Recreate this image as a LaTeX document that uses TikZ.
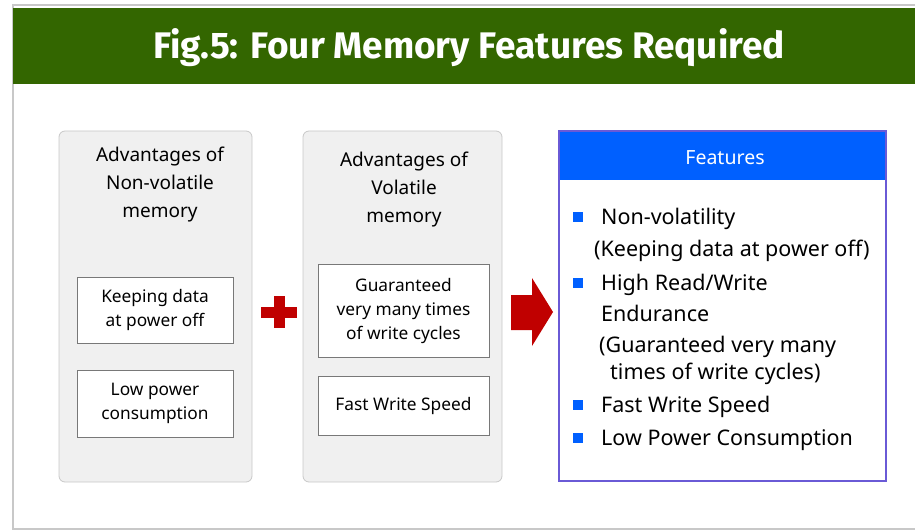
\documentclass[tikz,border=0pt]{standalone}
\usepackage{fontspec}
\setmainfont{Noto Sans}
\newfontfamily\titlefont{Fira Sans}
\usetikzlibrary{positioning}

\definecolor{bannergreen}{RGB}{51,102,0}
\definecolor{panelgray}{RGB}{240,240,240}
\definecolor{panelline}{RGB}{200,200,200}
\definecolor{boxline}{RGB}{120,120,120}
\definecolor{memred}{RGB}{192,0,0}
\definecolor{featblue}{RGB}{0,96,255}
\definecolor{featline}{RGB}{106,90,214}

\tikzset{
  panel/.style={draw=panelline, fill=panelgray, rounded corners=6pt, line width=0.8pt},
  advbox/.style={draw=boxline, fill=white, line width=0.8pt, align=center,
    font=\fontsize{17.3}{24}\selectfont},
  paneltitle/.style={align=center, font=\fontsize{19}{28}\selectfont},
  featitem/.style={anchor=west, inner sep=0pt, font=\fontsize{21.5}{24}\selectfont},
  bullet/.style={fill=featblue, minimum size=9.5pt, inner sep=0pt}
}

\begin{document}
\begin{tikzpicture}[x=1pt, y=-1pt]
    \useasboundingbox (0,0) rectangle (915,532);
    % frame and banner
    \draw[panelline, line width=1.5pt] (915,5) -- (13,5) -- (13,529) -- (915,529);
    \fill[bannergreen] (13,8) rectangle (915,84);
    \node[text=white, font=\titlefont\bfseries\fontsize{37}{40}\selectfont] (title) at (469,48)
        {Fig.5: Four Memory Features Required};

    % non-volatile memory
    \node[panel, minimum width=193pt, minimum height=351pt] (nvpanel) at (155.5,306.5) {};
    \node[paneltitle] (nvtitle) at (160,185) {Advantages of\\Non-volatile\\memory};
    \node[advbox, minimum width=156pt, minimum height=66pt] (keep) at (155,310) {Keeping data\\at power off};
    \node[advbox, minimum width=156pt, minimum height=67pt] (lowpow) at (155,403.5) {Low power\\consumption};

    % plus sign
    \fill[memred] (261,306.5) rectangle (297,317.5);
    \fill[memred] (273.5,296) rectangle (284.5,328);

    % volatile memory
    \node[panel, minimum width=199pt, minimum height=351pt] (vpanel) at (402.5,306.5) {};
    \node[paneltitle] (vtitle) at (404,190) {Advantages of\\Volatile\\memory};
    \node[advbox, minimum width=171pt, minimum height=93pt] (cycles) at (403.5,310.5) {Guaranteed\\very many times\\of write cycles};
    \node[advbox, minimum width=171pt, minimum height=59pt] (speed) at (403.5,405.5) {Fast Write Speed};

    % block arrow
    \fill[memred] (511,295) -- (532,295) -- (532,278) -- (553,312) -- (532,346) -- (532,330) -- (511,330) -- cycle;

    % features
    \fill[featblue] (559,131) rectangle (886,180);
    \draw[featline, line width=1.4pt] (559,131) rectangle (886,481);
    \node[text=white, font=\fontsize{19.5}{22}\selectfont] (feathead) at (725,158) {Features};

    \foreach \y/\name in {217/nonvol, 283/endur, 405/fast, 438/lowcons}
        \node[bullet] (b\name) at (578,\y) {};
    \node[featitem] (nonvol) at (601,219) {Non-volatility};
    \node[featitem] (keepnote) at (594,251) {(Keeping data at power off)};
    \node[featitem] (endur) at (601,285) {High Read/Write};
    \node[featitem] (endur2) at (601,313) {Endurance};
    \node[featitem] (cyclenote) at (599,347) {(Guaranteed very many};
    \node[featitem] (cyclenote2) at (610,374) {times of write cycles)};
    \node[featitem] (fast) at (601,407) {Fast Write Speed};
    \node[featitem] (lowcons) at (601,440) {Low Power Consumption};
\end{tikzpicture}
\end{document}
